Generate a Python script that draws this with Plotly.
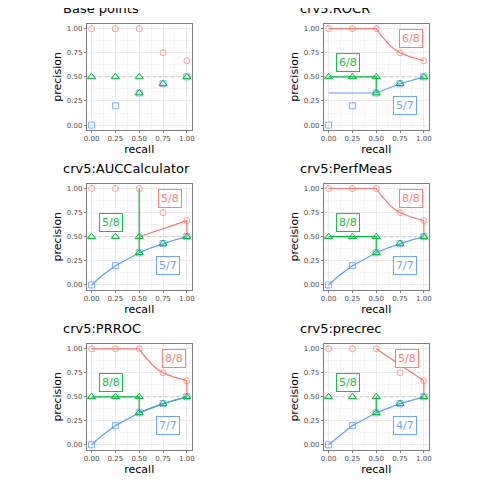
import plotly.graph_objects as go

RED, GREEN, BLUE = "#F8766D", "#00BA38", "#619CFF"
titles = ["Base points", "crv5:ROCR", "crv5:AUCCalculator", "crv5:PerfMeas", "crv5:PRROC", "crv5:precrec"]

red_x = [0, 0.25, 0.5, 0.75, 1]
red_y = [1, 1, 1, 0.75, 0.667]
green_x = [0, 0.25, 0.5, 0.5, 0.75, 1]
green_y = [0.5, 0.5, 0.5, 0.333, 0.429, 0.5]
blue_x = [0, 0.25, 0.5, 0.75, 1]
blue_y = [0, 0.2, 0.333, 0.429, 0.5]

red_curve_x = [0, 0.5, 0.55, 0.6, 0.65, 0.7, 0.75, 0.85, 1]
red_curve_y = [1, 1, 0.93, 0.87, 0.82, 0.78, 0.75, 0.71, 0.667]
blue_curve_x = [0, 0.1, 0.25, 0.375, 0.5, 0.625, 0.75, 0.875, 1]
blue_curve_y = [0, 0.09, 0.2, 0.27, 0.333, 0.385, 0.429, 0.467, 0.5]

lines = {
    1: [(RED, red_curve_x, red_curve_y), (GREEN, [0, 0.5, 0.5], [0.5, 0.5, 0.333]),
        (BLUE, [0, 0.5, 0.75, 1], [0.333, 0.333, 0.429, 0.5])],
    2: [(RED, [0.5, 1, 1], [0.5, 0.667, 0.5]), (GREEN, [0.5, 0.5], [1, 0.333]),
        (BLUE, blue_curve_x, blue_curve_y)],
    3: [(RED, red_curve_x + [1], red_curve_y + [0.5]), (GREEN, [0, 0.5, 0.5], [0.5, 0.5, 0.333]),
        (BLUE, blue_curve_x, blue_curve_y)],
    4: [(RED, red_curve_x + [1], red_curve_y + [0.5]),
        (GREEN, [0, 0.5, 0.5, 0.75, 1], [0.5, 0.5, 0.333, 0.429, 0.5]),
        (BLUE, blue_curve_x, blue_curve_y)],
    5: [(RED, [0.5, 1, 1], [1, 0.667, 0.5]), (GREEN, [0.5, 0.5], [0.5, 0.333]),
        (BLUE, blue_x, blue_y)],
}
labels = {
    1: [("6/8", RED, 0.87, 0.9), ("6/8", GREEN, 0.2, 0.65), ("5/7", BLUE, 0.8, 0.2)],
    2: [("5/8", RED, 0.82, 0.9), ("5/8", GREEN, 0.2, 0.65), ("5/7", BLUE, 0.8, 0.2)],
    3: [("8/8", RED, 0.87, 0.9), ("8/8", GREEN, 0.2, 0.65), ("7/7", BLUE, 0.8, 0.2)],
    4: [("8/8", RED, 0.87, 0.9), ("8/8", GREEN, 0.2, 0.65), ("7/7", BLUE, 0.8, 0.2)],
    5: [("5/8", RED, 0.82, 0.9), ("5/8", GREEN, 0.2, 0.65), ("4/7", BLUE, 0.8, 0.2)],
}

xdom = [[0.16, 0.381], [0.66, 0.881]]
ydom = [[0.746, 0.967], [0.413, 0.634], [0.08, 0.30]]

fig = go.Figure()
lay = {}
ann = []
for i in range(6):
    r, c = divmod(i, 2)
    n = "" if i == 0 else str(i + 1)
    xa, ya = "x" + n, "y" + n
    tick = dict(tickvals=[0, 0.25, 0.5, 0.75, 1], ticktext=["0.00", "0.25", "0.50", "0.75", "1.00"],
                range=[-0.05, 1.05], showgrid=True, gridcolor="#EBEBEB", zeroline=False,
                showline=True, mirror=True, linecolor="#7F7F7F", linewidth=1,
                ticks="outside", ticklen=2, tickcolor="#7F7F7F",
                tickfont=dict(size=7, color="#4D4D4D"), minor=dict(showgrid=True, gridcolor="#F5F5F5", dtick=0.125))
    lay["xaxis" + n] = dict(tick, domain=xdom[c], anchor=ya,
                           title=dict(text="recall", font=dict(size=11, color="black"), standoff=2))
    lay["yaxis" + n] = dict(tick, domain=ydom[r], anchor=xa,
                           title=dict(text="precision", font=dict(size=11, color="black"), standoff=2))
    ann.append(dict(text=titles[i], x=xdom[c][0] - 0.055, y=ydom[r][1] + 0.012, xref="paper", yref="paper",
                    xanchor="left", yanchor="bottom", showarrow=False, font=dict(size=13, color="black")))
    fig.add_trace(go.Scatter(x=[-0.05, 1.05], y=[0.5, 0.5], mode="lines", xaxis=xa, yaxis=ya,
                             line=dict(color="#C8C8C8", width=1, dash="dot"), showlegend=False))
    for col, lx, ly in lines.get(i, []):
        fig.add_trace(go.Scatter(x=lx, y=ly, mode="lines", xaxis=xa, yaxis=ya,
                                 line=dict(color=col, width=1.2), showlegend=False))
    fig.add_trace(go.Scatter(x=red_x, y=red_y, mode="markers", xaxis=xa, yaxis=ya, showlegend=False,
                             marker=dict(symbol="circle-open", color=RED, size=6, opacity=0.7)))
    fig.add_trace(go.Scatter(x=blue_x, y=blue_y, mode="markers", xaxis=xa, yaxis=ya, showlegend=False,
                             marker=dict(symbol="square-open", color=BLUE, size=6, opacity=0.8)))
    fig.add_trace(go.Scatter(x=green_x, y=green_y, mode="markers", xaxis=xa, yaxis=ya, showlegend=False,
                             marker=dict(symbol="triangle-up-open", color=GREEN, size=7)))
    for t, col, lx, ly in labels.get(i, []):
        ann.append(dict(text=t, x=lx, y=ly, xref=xa, yref=ya, showarrow=False,
                        font=dict(size=11, color=col), bgcolor="white", bordercolor=col,
                        borderwidth=1, borderpad=2, opacity=0.9))

fig.update_layout(**lay, annotations=ann, width=480, height=480, plot_bgcolor="white",
                  paper_bgcolor="white", margin=dict(l=0, r=0, t=0, b=0),
                  font=dict(family="DejaVu Sans"))
fig.write_html("out.html")
